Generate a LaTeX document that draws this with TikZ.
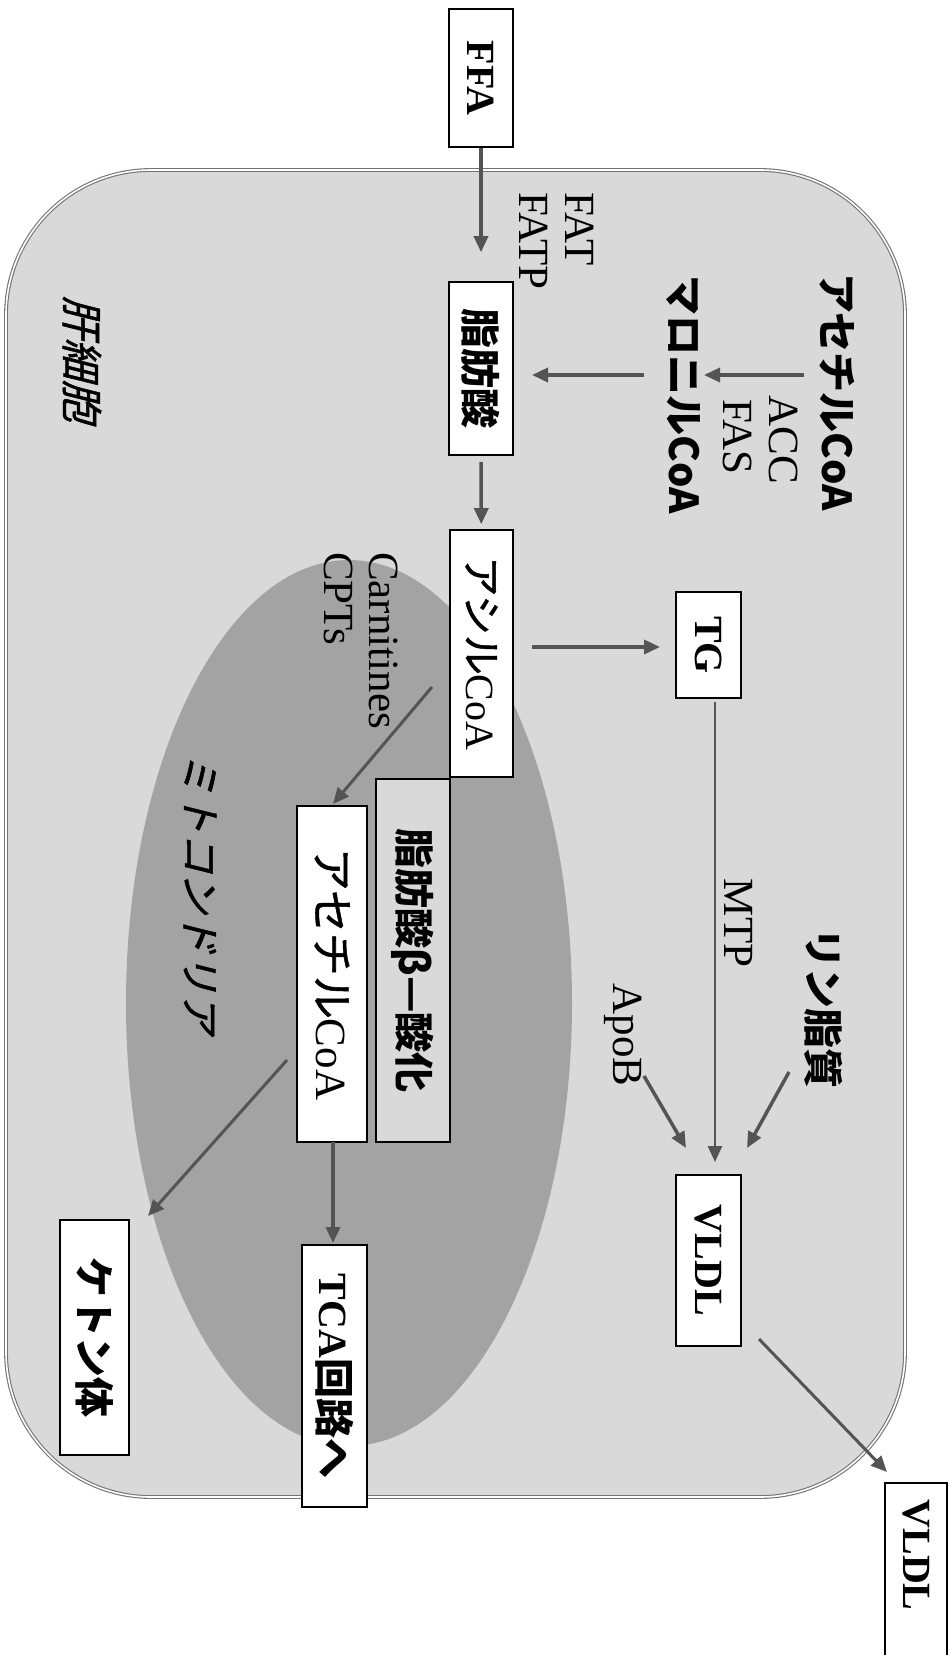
\documentclass[tikz,border=0pt]{standalone}
\usepackage{fontspec}
\setmainfont{Liberation Serif}
\newfontfamily\jp{Noto Sans CJK JP}
\newfontfamily\jpm[FakeBold=1.2]{Noto Sans CJK JP}
\newfontfamily\jpsl[FakeSlant=0.25,FakeBold=1.2]{Noto Sans CJK JP}
\usetikzlibrary{arrows.meta}
\definecolor{cellfill}{gray}{0.85}
\definecolor{mitofill}{gray}{0.64}
\definecolor{arrowcol}{gray}{0.33}
\definecolor{cellline}{gray}{0.45}
\begin{document}
\begin{tikzpicture}[x=1pt,y=-1pt,
  every node/.style={font=\fontsize{40}{46}\selectfont},
  box/.style={draw=black, line width=1.6pt, fill=white, rotate=-90, inner sep=0pt},
  lbl/.style={rotate=-90, inner sep=0pt},
  latin/.style={lbl, font=\fontsize{43}{48}\selectfont},
  arr/.style={draw=arrowcol, line width=3.5pt, -{Triangle[length=16pt,width=14pt]}},
]
\useasboundingbox (0,0) rectangle (948,1655);
\clip (0,0) rectangle (948,1655);

% hepatocyte
\draw[fill=cellfill, draw=cellline, line width=1.1pt, double=white, double distance=1.6pt,
      rounded corners=145pt] (6,170) rectangle (905,1497);
% mitochondrion
\fill[mitofill] (349,1003) ellipse [x radius=223, y radius=443];

% boxes
\node[box, minimum width=138pt, minimum height=64pt] (ffa) at (481,78) {\bfseries FFA};
\node[box, minimum width=173pt, minimum height=64pt] (fa) at (481,368.5) {\jp\bfseries 脂肪酸};
\node[box, minimum width=247pt, minimum height=63pt] (acyl) at (481.5,653.5) {{\jpm アシル}CoA};
\node[box, minimum width=106pt, minimum height=65pt] (tg) at (708.5,645) {\bfseries TG};
\node[box, fill=cellfill, minimum width=363pt, minimum height=74pt] (beta) at (413,960.5) {\jp\bfseries 脂肪酸β—酸化};
\node[box, minimum width=336pt, minimum height=70pt, font=\fontsize{43}{48}\selectfont] (acetyl2) at (332,974) {{\jpm アセチル}CoA};
\node[box, minimum width=262pt, minimum height=65pt] (tca) at (334.5,1376) {\bfseries TCA{\jp 回路へ}};
\node[box, minimum width=235pt, minimum height=69pt] (ketone) at (94.5,1337.5) {\jp\bfseries ケトン体};
\node[box, minimum width=171pt, minimum height=65pt] (vldl) at (708.5,1260.5) {\bfseries VLDL};
\node[box, minimum width=180pt, minimum height=62pt] (vldlout) at (916,1573) {\bfseries VLDL\hspace*{36pt}};

% free labels
\node[lbl] (acetyl1) at (837,392) {\jp\bfseries アセチルCoA};
\node[lbl] (malonyl) at (683,395) {\jp\bfseries マロニルCoA};
\node[latin] (acc) at (784,440) {ACC};
\node[latin] (fas) at (738,437) {FAS};
\node[latin, anchor=west] (fat) at (580,192) {FAT};
\node[latin, anchor=west] (fatp) at (534,192) {FATP};
\node[latin, anchor=west] (carn) at (384,552) {Carnitines};
\node[latin, anchor=west] (cpt) at (339,552) {CPTs};
\node[latin] (mtp) at (739,923) {MTP};
\node[lbl] (rin) at (824,1008) {\jp\bfseries リン脂質};
\node[latin] (apob) at (623,1035) {ApoB};
\node[lbl, font=\fontsize{42}{48}\selectfont] (kan) at (82,359) {\jpsl 肝細胞};
\node[lbl] (mito) at (200,893) {\jpsl ミトコンドリア};

% connector end points
\coordinate (acS) at (804,375);
\coordinate (acE) at (704,375);
\coordinate (maS) at (644,375);
\coordinate (maE) at (532,375);
\coordinate (tgS) at (532,647);
\coordinate (tgE) at (660,647);
\coordinate (cpS) at (432,687);
\coordinate (cpE) at (333,804);
\coordinate (mtS) at (715,702);
\coordinate (mtE) at (715,1162);
\coordinate (apS) at (644,1076);
\coordinate (apE) at (686,1148);
\coordinate (riS) at (789,1072);
\coordinate (riE) at (747,1148);
\coordinate (tcS) at (333,1142);
\coordinate (tcE) at (333,1243);
\coordinate (ktS) at (287,1060);
\coordinate (ktE) at (148,1216);
\coordinate (vlS) at (759,1339);
\coordinate (vlE) at (887,1472);

% connectors
\draw[arr, shorten >=29pt] (ffa) -- (fa);
\draw[arr, shorten <=6pt, shorten >=5pt] (fa) -- (acyl);
\draw[arr] (acS) -- (acE);
\draw[arr] (maS) -- (maE);
\draw[arr] (tgS) -- (tgE);
\draw[arr, line width=3pt] (cpS) -- (cpE);
\draw[arr, line width=2.5pt] (mtS) -- (mtE);
\draw[arr] (apS) -- (apE);
\draw[arr] (riS) -- (riE);
\draw[arr] (tcS) -- (tcE);
\draw[arr, line width=3pt] (ktS) -- (ktE);
\draw[arr, line width=3pt] (vlS) -- (vlE);
\end{tikzpicture}
\end{document}
